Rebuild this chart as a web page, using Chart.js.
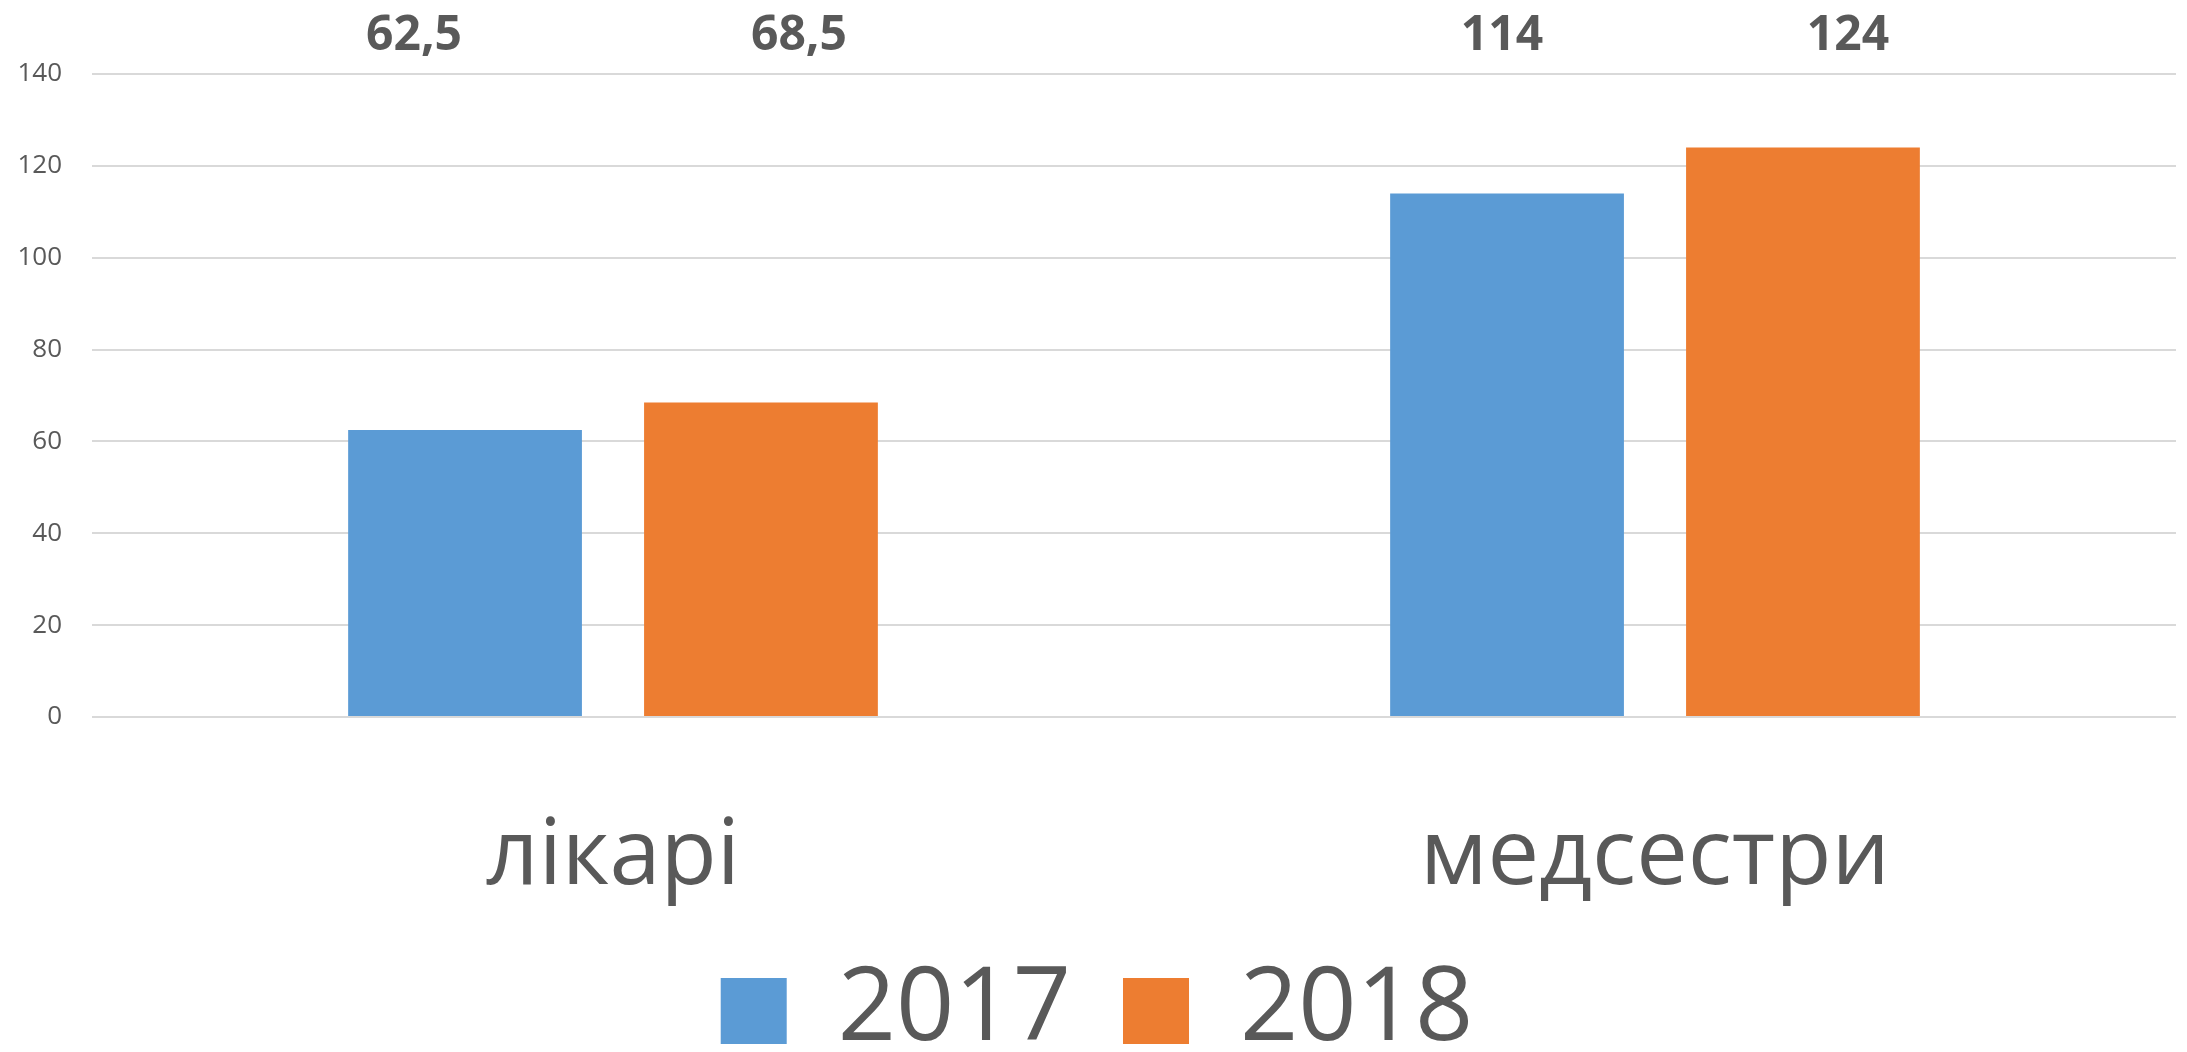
<!DOCTYPE html>
<html>
<head>
<meta charset="utf-8">
<script src="https://cdn.jsdelivr.net/npm/chart.js@4.4.1/dist/chart.umd.min.js"></script>
<style>
  html, body { margin: 0; padding: 0; background: #ffffff; }
  #wrap { width: 2187px; height: 1052px; }
</style>
</head>
<body>
<div id="wrap"><canvas id="staffChart" width="2187" height="1052"></canvas></div>
<script>
// chart data
const categories = ["лікарі", "медсестри"];
const seriesNames = ["2017", "2018"];
const values2017 = [62.5, 114];
const values2018 = [68.5, 124];
const yTicks = [0, 20, 40, 60, 80, 100, 120, 140];

const textColor = "#595959";
const fontFamily = "'Open Sans', 'Noto Sans', sans-serif";

// value labels sit in a row above the plot, nudged sideways like in the original
const labelShift = [[-51, -5], [38, 45]];

const topLabels = {
    id: "topLabels",
    afterDatasetsDraw(chart) {
        let ctx = chart.ctx;
        ctx.save();
        ctx.font = "bold 48px " + fontFamily;
        ctx.fillStyle = textColor;
        ctx.textAlign = "center";
        ctx.textBaseline = "alphabetic";
        chart.data.datasets.forEach((ds, i) => {
            chart.getDatasetMeta(i).data.forEach((bar, j) => {
                let txt = String(ds.data[j]).replace(".", ",");
                ctx.fillText(txt, bar.x + labelShift[i][j], chart.chartArea.top - 24);
            });
        });
        ctx.restore();
    }
};

document.addEventListener("DOMContentLoaded", function () {
    let ctx = document.getElementById("staffChart").getContext("2d");
    new Chart(ctx, {
        type: "bar",
        data: {
            labels: categories,
            datasets: [{
                label: seriesNames[0],
                data: values2017,
                backgroundColor: "#5B9BD5",
                borderWidth: 0
            }, {
                label: seriesNames[1],
                data: values2018,
                backgroundColor: "#ED7D31",
                borderWidth: 0
            }]
        },
        options: {
            responsive: false,
            animation: false,
            layout: {
                padding: { left: 18, right: 11, top: 74, bottom: -20 }
            },
            datasets: {
                bar: { categoryPercentage: 0.568, barPercentage: 0.79 }
            },
            plugins: {
                tooltip: { enabled: false },
                legend: {
                    position: "bottom",
                    labels: {
                        color: textColor,
                        font: { family: fontFamily, size: 102 },
                        boxWidth: 66,
                        boxHeight: 66,
                        padding: 52
                    }
                }
            },
            scales: {
                x: {
                    grid: { display: false },
                    border: { display: false },
                    ticks: {
                        color: textColor,
                        font: { family: fontFamily, size: 92 },
                        padding: 78
                    },
                    afterFit: s => { s.height = 191; }
                },
                y: {
                    min: 0,
                    max: 140,
                    grid: { color: "#D9D9D9", lineWidth: 2, drawTicks: false },
                    border: { display: false },
                    afterBuildTicks: s => { s.ticks = yTicks.map(v => ({ value: v })); },
                    ticks: {
                        color: textColor,
                        font: { family: fontFamily, size: 26 },
                        padding: 30
                    },
                    afterFit: s => { s.width = 74; }
                }
            }
        },
        plugins: [topLabels]
    });
});
</script>
</body>
</html>
